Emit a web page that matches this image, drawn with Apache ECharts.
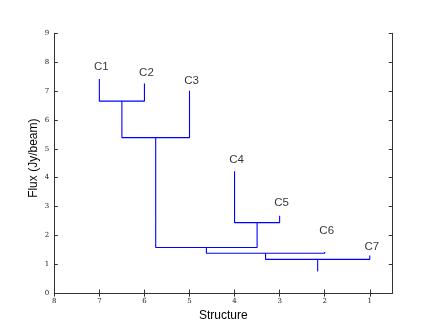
<!DOCTYPE html>
<html><head><meta charset="utf-8">
<script src="https://cdn.jsdelivr.net/npm/echarts@6/dist/echarts.min.js"></script>
<style>html,body{margin:0;padding:0;background:#fff}#c{width:436px;height:327px}</style>
</head><body><div id="c"></div>
<script>
// Leaves
const leafNames = ['C1','C2','C3','C4','C5','C6','C7'];
const leafX     = [7, 6, 5, 4, 3, 2, 1];
const leafTop   = [7.42, 7.26, 7.01, 4.22, 2.68, 1.42, 1.30];
const labelY    = [7.85, 7.64, 7.34, 4.63, 3.14, 2.14, 1.61];
// Merges: children indices (leaf i => 'L'+i, merge j => 'M'+j), merge heights
const mergeLeft   = ['L0','M0','L3','M1','M3','M4'];
const mergeRight  = ['L1','L2','L4','M2','L5','L6'];
const mergeHeight = [6.65, 5.385, 2.44, 1.58, 1.38, 1.17];
const rootBottom  = 0.75;
const xTicks = [1,2,3,4,5,6,7,8];
const yTicks = [0,1,2,3,4,5,6,7,8,9];

const nodes = {};
leafNames.forEach((n,i)=>{ nodes['L'+i] = {x: leafX[i], y: leafTop[i]}; });
const series = [];
const lineStyle = {color:'#0000ff', width:1.1};
mergeHeight.forEach((h,j)=>{
  const a = nodes[mergeLeft[j]], b = nodes[mergeRight[j]];
  nodes['M'+j] = {x:(a.x+b.x)/2, y:h};
  series.push({type:'line', data:[[a.x,a.y],[a.x,h],[b.x,h],[b.x,b.y]], symbol:'none', lineStyle, silent:true, animation:false});
});
const root = nodes['M'+(mergeHeight.length-1)];
series.push({type:'line', data:[[root.x,root.y],[root.x,rootBottom]], symbol:'none', lineStyle, silent:true, animation:false});
series.push({type:'scatter', symbolSize:1, itemStyle:{color:'transparent'}, animation:false,
  data: leafNames.map((n,i)=>({name:n, value:[leafX[i], labelY[i]]})),
  label:{show:true, position:'inside', offset:[2,0], formatter:'{b}', color:'#000', fontFamily:'Liberation Sans', fontSize:11.5}
});

const tickLab = {fontFamily:'DejaVu Serif', fontSize:7, color:'#222'};
const axLine = {show:true, lineStyle:{color:'#333', width:1}};
const opt = {
  animation:false,
  grid:{left:54.3, right:43.7, top:33.3, bottom:33, containLabel:false},
  xAxis:[
    {type:'value', inverse:true, min:0.5, max:8, position:'bottom',
     name:'Structure', nameLocation:'middle', nameGap:14, nameTextStyle:{fontFamily:'Liberation Sans', fontSize:12, color:'#000'},
     axisLine:axLine, axisTick:{inside:true, length:3.5, customValues:xTicks, lineStyle:{color:'#333'}},
     axisLabel:Object.assign({customValues:xTicks, margin:5}, tickLab), splitLine:{show:false}},
    {type:'value', inverse:true, min:0.5, max:8, position:'top',
     axisLine:axLine, axisTick:{inside:true, length:3.5, customValues:xTicks, lineStyle:{color:'#333'}},
     axisLabel:{show:false}, splitLine:{show:false}}
  ],
  yAxis:[
    {type:'value', min:0, max:9, interval:1, position:'left',
     name:'Flux (Jy/beam)', nameLocation:'middle', nameGap:15, nameMoveOverlap:false,
     nameTextStyle:{fontFamily:'Liberation Sans', fontSize:12, color:'#000', padding:[0,0,0,10]},
     axisLine:axLine, axisTick:{inside:true, length:3.5, lineStyle:{color:'#333'}},
     axisLabel:Object.assign({margin:5}, tickLab), splitLine:{show:false}},
    {type:'value', min:0, max:9, interval:1, position:'right',
     axisLine:axLine, axisTick:{inside:true, length:3.5, lineStyle:{color:'#333'}},
     axisLabel:{show:false}, splitLine:{show:false}}
  ],
  series
};
echarts.init(document.getElementById('c')).setOption(opt);
</script></body></html>
